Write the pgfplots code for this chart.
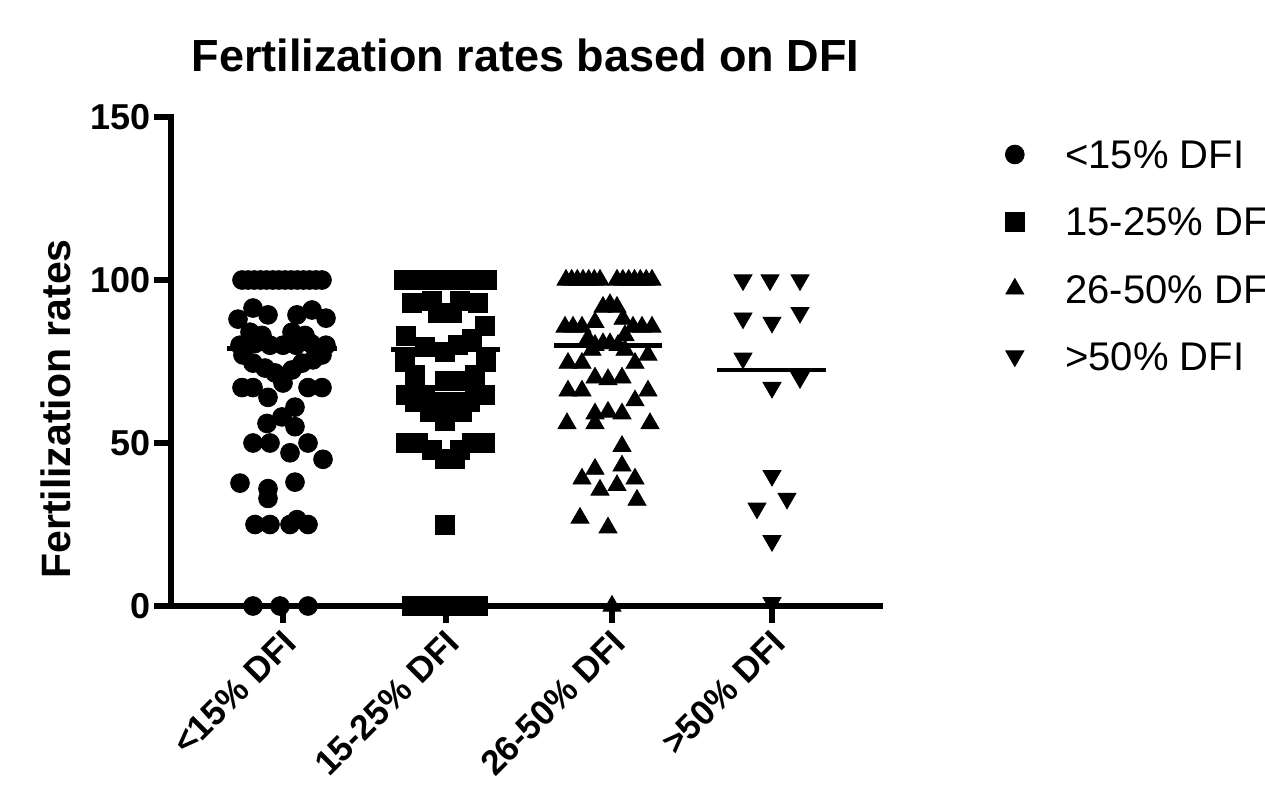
\documentclass[border=0pt]{standalone}
\usepackage{fontspec}
\setmainfont{Liberation Sans}
\usepackage{pgfplots}
\pgfplotsset{compat=1.18}
\begin{document}
\begin{tikzpicture}
\pgfplotsset{
  lgd/.style={legend image code/.code={\path (-6pt,-7pt) (6pt,7pt);
      \draw[##1,mark repeat=2,mark phase=2] plot coordinates {(-1pt,0pt) (0pt,0pt) (1pt,0pt)};}}
}
\begin{axis}[
  scale only axis, width=354.5pt, height=244.5pt,
  xmin=171, xmax=880, ymin=0, ymax=150,
  axis x line*=bottom, axis y line*=left,
  axis line style={line width=3.2pt, line cap=rect},
  every tick/.style={black, line width=3.2pt},
  tick align=outside, major tick length=8.5pt,
  xtick={283,446,612,772},
  xticklabels={{<15\% DFI},{15-25\% DFI},{26-50\% DFI},{>50\% DFI}},
  ytick={0,50,100,150},
  /pgf/number format/assume math mode=true,
  yticklabel style={font=\fontsize{18}{21}\selectfont\bfseries, xshift=2pt},
  xticklabel style={font=\fontsize{17.5}{21}\selectfont\bfseries, rotate=45, anchor=north east, inner sep=1pt, xshift=-1.5pt, yshift=0pt},
  ylabel={Fertilization rates},
  ylabel style={font=\fontsize{20.5}{24}\selectfont\bfseries, at={(axis description cs:-0.162,0.403)}, anchor=center},
  title={Fertilization rates based on DFI},
  title style={font=\fontsize{22.5}{26}\selectfont\bfseries, at={(axis description cs:0.5,1)}, anchor=base, yshift=17pt},
  clip=false,
  legend cell align=left,
  legend style={draw=none, fill=none, inner sep=0pt, at={(axis description cs:1.1721,0.9536)}, anchor=north west,
    font=\fontsize{20}{24}\selectfont, row sep=19.2pt, column sep=19pt,
    nodes={inner sep=0pt, text height=14.3pt, text depth=0pt}},
]
% <15% DFI  (circles)
\addplot[only marks, mark=*, mark size=4.7pt, black, lgd] table {
x y
242 100
248.2 100
254.3 100
260.5 100
266.6 100
272.8 100
278.9 100
285.1 100
291.2 100
297.4 100
303.5 100
309.7 100
315.8 100
322 100
238 88
253 91.4
268 89.3
297 89.3
312 90.8
326 88.3
250 84
262 83
292 84
305 83
240 80
255 80.5
270 80
283 80
296 80
311 80.5
326 80
243 77
322 77
253 74.5
265 73
275 71.5
283 68.4
292 72.4
302 74.5
313 75.5
242 67
253 67
308 67
322 67
268 64
295 61
282 58
267 56
295 55
253 50
270 50
290 47
308 50
323 45
240 37.7
268 36
268 33
295 38
255 25
270 25
290 25
297 26.5
308 25
253 0
280 0
308 0
};
\addlegendentry{<15\% DFI}
% 15-25% DFI (squares)
\addplot[only marks, mark=square*, mark size=4.75pt, black, lgd] table {
x y
404 100
413.2 100
422.4 100
431.7 100
440.9 100
450.1 100
459.3 100
468.6 100
477.8 100
487 100
412 93
432 93.5
460 93.5
478 93
438 90
452 90
485 86
406 83
472 82
458 80
425 79.5
445 78
405 75
486 75
415 71
475 71
445 69
458 69
406 64.7
425 64.7
475 64.7
485 64.7
415 62.5
435 62.5
455 62.5
470 62.5
430 59.5
450 59.5
462 59.5
445 56.7
406 50
418 50
472 50
485 50
432 48
460 48
445 45
455 45
445 25
412 0
425 0
438 0
452 0
465 0
478 0
};
\addlegendentry{15-25\% DFI}
% 26-50% DFI (triangles)
\addplot[only marks, mark=triangle*, mark size=5.2pt, black, lgd] table {
x y
566 100
571.7 100
577.3 100
583 100
588.7 100
594.3 100
600 100
617 100
622.8 100
628.7 100
634.5 100
640.3 100
646.2 100
652 100
603 91.7
610 92.5
617 91.7
623 88
595 87
565 85.6
573 85.6
582 85.6
633 85.6
642 85.6
652 85.6
588 82
625 83
595 80
603 80.5
610 80.5
618 80
592 78.5
625 78.5
648 77
568 74.5
582 74.5
635 74.5
595 70
608 69.5
622 70
568 66
582 66
648 66
635 63
595 59
608 59.5
622 59
567 56
595 56
650 56
622 49
595 42
622 43
582 39
635 39
600 35.6
617 37
637 32.5
580 27
608 24
612 0
};
\addlegendentry{26-50\% DFI}
% >50% DFI (inverted triangles)
\addplot[only marks, mark=triangle*, mark options={rotate=180}, mark size=5.2pt, black, lgd] table {
x y
743 100
770 100
800 100
743 88.3
772 87
800 90
743 76
772 67
800 70
772 40
757 30
787 33
772 20
772 1
};
\addlegendentry{>50\% DFI}
% medians
\addplot[black, line width=2.4pt, forget plot] coordinates {(227,79.1) (337,79.1)};
\addplot[black, line width=2.4pt, forget plot] coordinates {(391,78.8) (500,78.8)};
\addplot[black, line width=2.4pt, forget plot] coordinates {(554,79.8) (662,79.8)};
\addplot[black, line width=2.4pt, forget plot] coordinates {(717,72.4) (826,72.4)};
\end{axis}
\pgfresetboundingbox
\path[use as bounding box] (-85.5pt,-94pt) rectangle (547pt,303pt);
\end{tikzpicture}
\end{document}
